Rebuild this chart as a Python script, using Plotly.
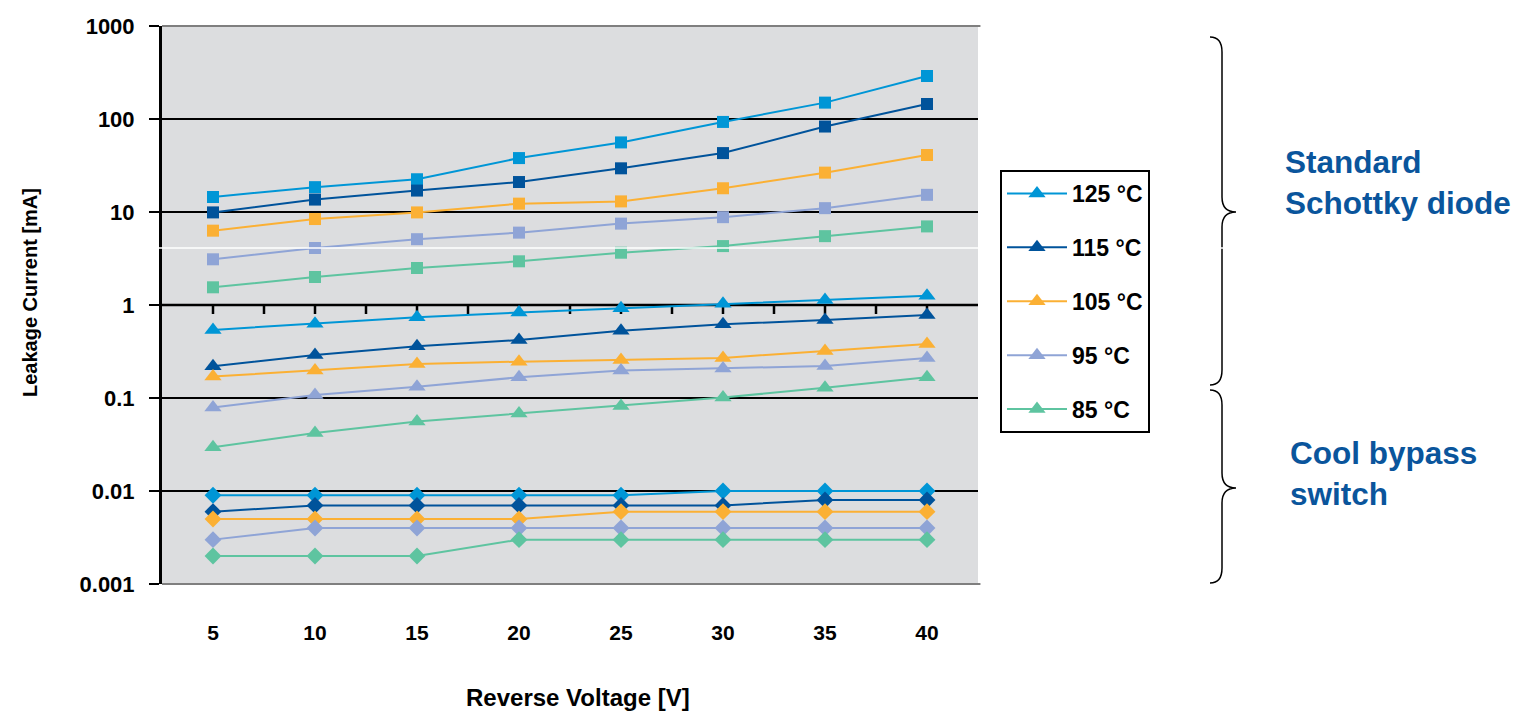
import math
import plotly.graph_objects as go

W, H = 1519, 711
OX, OY = -8, -8  # compensate page offset

voltages = [5, 10, 15, 20, 25, 30, 35, 40]
temps = ["125 °C", "115 °C", "105 °C", "95 °C", "85 °C"]
colors = ["#0096D6", "#00539B", "#FBB034", "#8FA4D6", "#5EC4A0"]

# Standard Schottky diode (squares)
sq_125 = [14.5, 18.5, 22.5, 38, 56, 93, 150, 290]
sq_115 = [9.9, 13.6, 17, 21, 29.5, 43, 83, 145]
sq_105 = [6.3, 8.4, 9.9, 12.3, 13, 18, 26.5, 41]
sq_95 = [3.1, 4.1, 5.1, 6.0, 7.5, 8.8, 11, 15.3]
sq_85 = [1.55, 2.0, 2.5, 2.95, 3.65, 4.3, 5.5, 7.0]

# Mid series (triangles)
tri_125 = [0.54, 0.63, 0.74, 0.83, 0.92, 1.03, 1.13, 1.26]
tri_115 = [0.22, 0.29, 0.36, 0.42, 0.53, 0.62, 0.69, 0.78]
tri_105 = [0.17, 0.197, 0.232, 0.246, 0.256, 0.27, 0.32, 0.38]
tri_95 = [0.079, 0.108, 0.132, 0.167, 0.197, 0.208, 0.221, 0.27]
tri_85 = [0.0295, 0.042, 0.056, 0.068, 0.082, 0.101, 0.129, 0.167]

# Cool bypass switch (diamonds)
dia_125 = [0.009, 0.009, 0.009, 0.009, 0.009, 0.01, 0.01, 0.01]
dia_115 = [0.006, 0.007, 0.007, 0.007, 0.007, 0.007, 0.008, 0.008]
dia_105 = [0.005, 0.005, 0.005, 0.005, 0.006, 0.006, 0.006, 0.006]
dia_95 = [0.003, 0.004, 0.004, 0.004, 0.004, 0.004, 0.004, 0.004]
dia_85 = [0.002, 0.002, 0.002, 0.003, 0.003, 0.003, 0.003, 0.003]

y_tickvals = [0.001, 0.01, 0.1, 1, 10, 100, 1000]
y_ticktext = ["0.001", "0.01", "0.1", "1", "10", "100", "1000"]

squares = [sq_125, sq_115, sq_105, sq_95, sq_85]
triangles = [tri_125, tri_115, tri_105, tri_95, tri_85]
diamonds = [dia_125, dia_115, dia_105, dia_95, dia_85]

FONT = "Liberation Sans, Arial, Helvetica, sans-serif"


def px(x):
    return (x + OX) / W


def py(y):
    return 1 - (y + OY) / H


fig = go.Figure()

for i in range(5):
    fig.add_trace(go.Scatter(
        x=voltages, y=diamonds[i], mode="lines+markers",
        line=dict(color=colors[i], width=2),
        marker=dict(symbol="diamond", size=13, color=colors[i]),
        showlegend=False, name=temps[i]))
for i in range(5):
    fig.add_trace(go.Scatter(
        x=voltages, y=squares[i], mode="lines+markers",
        line=dict(color=colors[i], width=2),
        marker=dict(symbol="square", size=12, color=colors[i]),
        showlegend=False, name=temps[i]))
for i in range(5):
    fig.add_trace(go.Scatter(
        x=voltages, y=triangles[i], mode="lines+markers",
        line=dict(color=colors[i], width=2),
        marker=dict(symbol="triangle-up", size=15, color=colors[i]),
        showlegend=True, name=temps[i], legendgroup=temps[i]))

x0, x1 = 162, 978
y_top, y_bot = 26, 584

shapes = []
for v in [100, 10, 1, 0.1, 0.01]:
    f = (math.log10(v) + 3) / 6
    shapes.append(dict(type="line", xref="x domain", yref="y domain",
                       x0=0, x1=1, y0=f, y1=f, layer="below",
                       line=dict(color="black", width=2.5 if v == 1 else 2)))
for f in [0, 1]:
    shapes.append(dict(type="line", xref="x domain", yref="y domain",
                       x0=0, x1=1.003, y0=f, y1=f, layer="below",
                       line=dict(color="#7f7f7f", width=2)))
f1 = (math.log10(1) + 3) / 6
for k in range(1, 16):
    shapes.append(dict(type="line", xref="x domain", yref="y domain",
                       x0=k / 16, x1=k / 16, y0=f1, y1=f1 - 9 / (y_bot - y_top),
                       layer="below", line=dict(color="black", width=2.5)))


def brace(top, tip, bot, xl=1210, xv=1222, xt=1236):
    pts = [
        f"M {px(xl)},{py(top)}",
        f"C {px(xl + 8)},{py(top)} {px(xv)},{py(top + 5)} {px(xv)},{py(top + 15)}",
        f"L {px(xv)},{py(tip - 15)}",
        f"C {px(xv)},{py(tip - 5)} {px(xv + 5)},{py(tip)} {px(xt)},{py(tip)}",
        f"C {px(xv + 5)},{py(tip)} {px(xv)},{py(tip + 5)} {px(xv)},{py(tip + 15)}",
        f"L {px(xv)},{py(bot - 15)}",
        f"C {px(xv)},{py(bot - 5)} {px(xl + 8)},{py(bot)} {px(xl)},{py(bot)}",
    ]
    return dict(type="path", xref="paper", yref="paper", path=" ".join(pts),
                line=dict(color="black", width=1.5))


shapes.append(brace(37, 212, 385))
shapes.append(brace(390, 488, 583))
shapes.append(dict(type="line", xref="paper", yref="paper", x0=0, x1=1,
                   y0=py(248), y1=py(248), layer="above",
                   line=dict(color="white", width=1.5)))

annotations = [
    dict(text="<b>Leakage Current [mA]</b>", xref="paper", yref="paper",
         x=px(30), y=py(293), textangle=-90, showarrow=False,
         font=dict(family=FONT, size=20, color="black"),
         xanchor="center", yanchor="middle"),
    dict(text="<b>Reverse Voltage [V]</b>", xref="paper", yref="paper",
         x=px(578), y=py(697), showarrow=False,
         font=dict(family=FONT, size=24, color="black"),
         xanchor="center", yanchor="middle"),
    dict(text="<b>Standard<br>Schottky diode</b>", xref="paper", yref="paper",
         x=px(1283), y=py(182), showarrow=False, align="left",
         font=dict(family=FONT, size=31.5, color="#0a559c"),
         xanchor="left", yanchor="middle"),
    dict(text="<b>Cool bypass<br>switch</b>", xref="paper", yref="paper",
         x=px(1288), y=py(473), showarrow=False, align="left",
         font=dict(family=FONT, size=31.5, color="#0a559c"),
         xanchor="left", yanchor="middle"),
]

fig.update_layout(
    width=W, height=H,
    margin=dict(l=0, r=0, t=0, b=0, autoexpand=False),
    paper_bgcolor="white",
    plot_bgcolor="#DCDDDF",
    font=dict(family=FONT, color="black"),
    shapes=shapes,
    annotations=annotations,
    legend=dict(
        x=px(1000), y=py(170), xanchor="left", yanchor="top",
        bgcolor="white", bordercolor="black", borderwidth=2,
        font=dict(family=FONT, size=23, color="black", weight="bold"),
        itemwidth=60, tracegroupgap=21, traceorder="grouped",
    ),
    xaxis=dict(
        domain=[px(x0), px(x1)], type="category", range=[-0.5, 7.5],
        showgrid=False, zeroline=False, showline=False, ticks="",
        tickfont=dict(family=FONT, size=21, color="black", weight="bold"),
        ticklabelstandoff=34, automargin=False,
    ),
    yaxis=dict(
        domain=[py(y_bot), py(y_top)], type="log", range=[-3, 3],
        tickvals=y_tickvals, ticktext=y_ticktext,
        showgrid=False, zeroline=False,
        showline=True, linecolor="black", linewidth=3,
        ticks="outside", ticklen=10, tickwidth=2, tickcolor="black",
        tickfont=dict(family=FONT, size=22, color="black", weight="bold"),
        ticklabelstandoff=10, automargin=False,
    ),
)

fig.write_html("out.html")
